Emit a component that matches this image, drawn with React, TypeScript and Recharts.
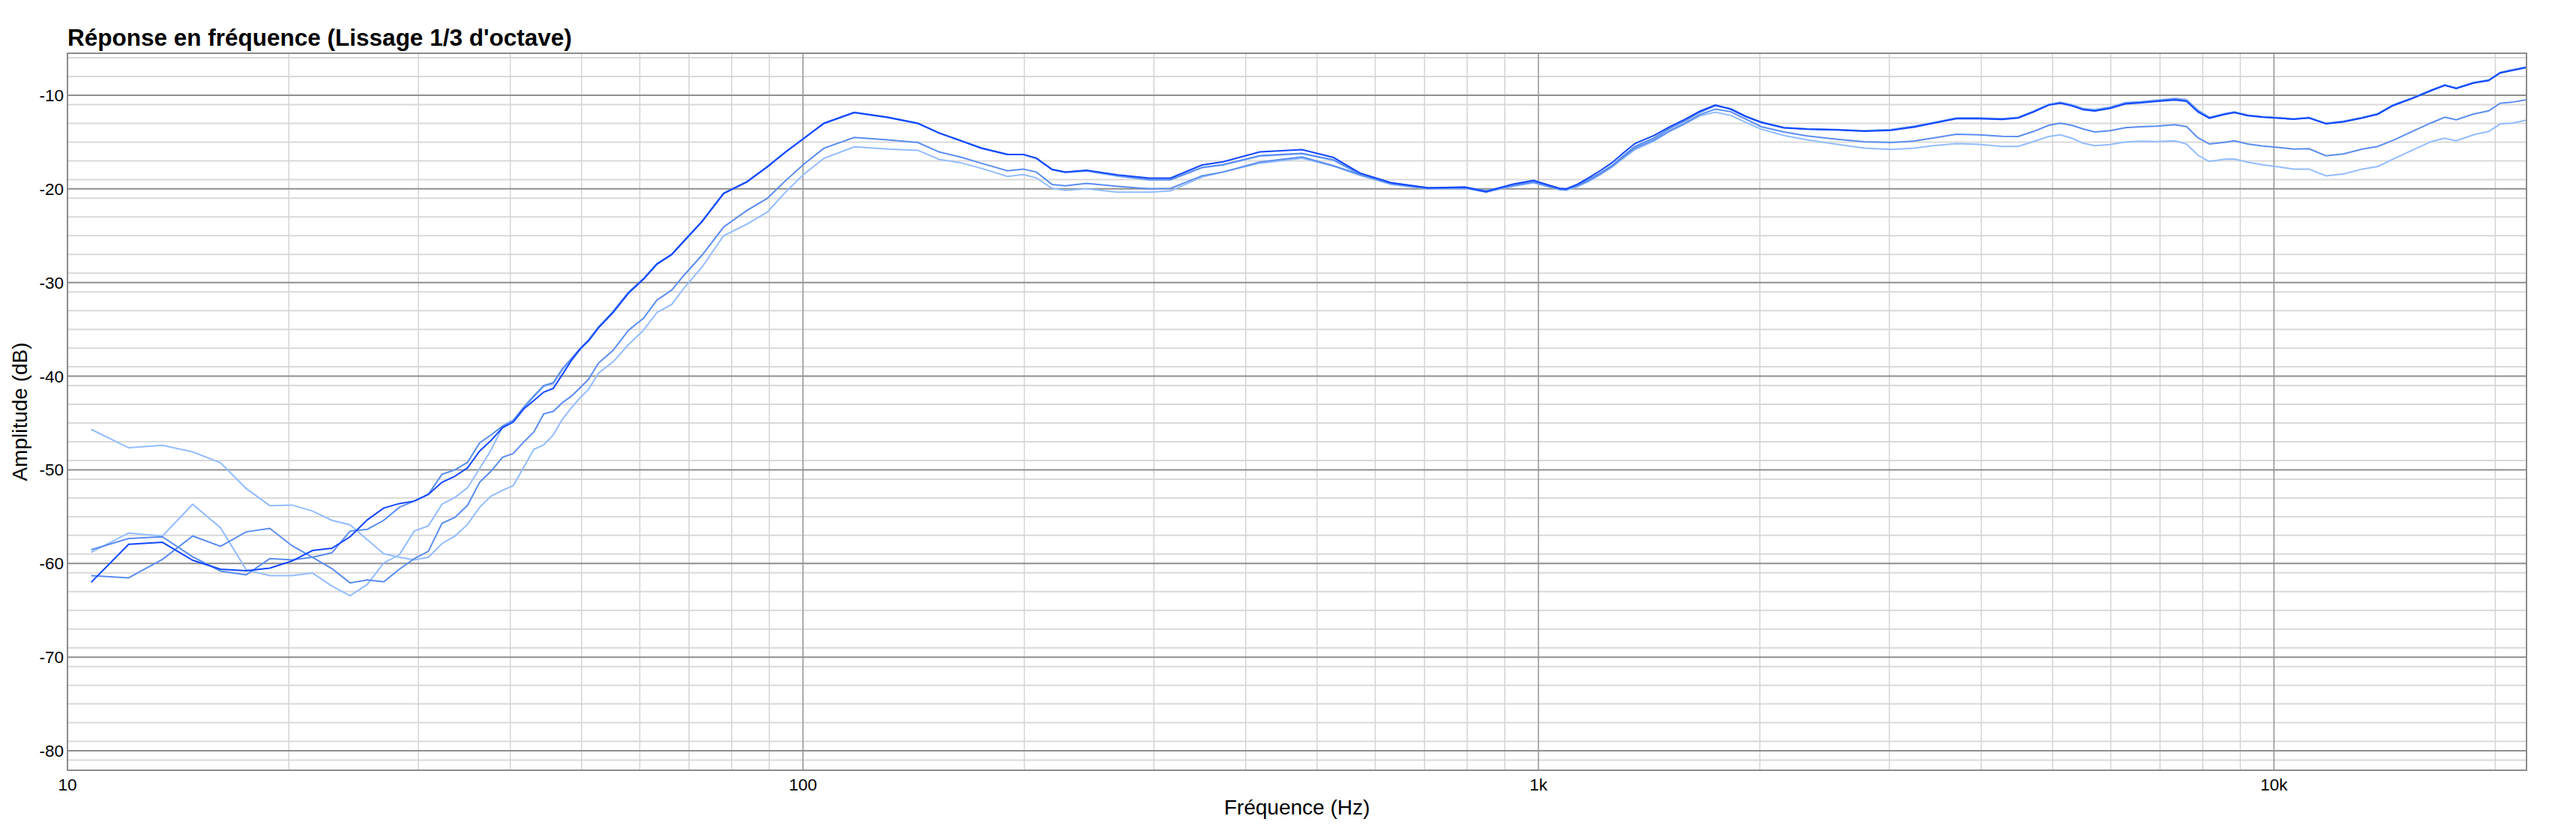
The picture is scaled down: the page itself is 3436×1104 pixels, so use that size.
import { CartesianGrid, Line, LineChart, XAxis, YAxis } from "recharts";

// frequencies (Hz): FFT bins at the bottom end, then a log-ish grid
const freqs = [
  10.77, 12.11, 13.46, 14.8, 16.15, 17.5, 18.84, 20.19, 21.53, 22.88,
  24.22, 25.57, 26.92, 28.26, 29.61, 30.95, 32.3, 33.65, 34.99, 36.34,
  37.68, 39.03, 40.37, 41.72, 43.07, 44.41, 45.76, 47.1, 48.45, 49.8, 51.14,
  52.7, 55.2, 57.9, 60.7, 63.3, 66.3, 68.8, 72.9, 78.0, 83.9, 89.4, 94.7, 100.3, 106.8, 117.4, 130.4, 143.3,
  153.1, 163.6, 174.7, 189.7, 199.3, 207.6, 218.2, 227.4, 242.9, 268.1, 295.9, 316.0, 348.8, 372.6, 418.1, 477.0, 526.5, 571.6, 631.0, 707.9, 794.5, 848.6, 921.5, 984.3, 1068.6,
  1090, 1130, 1171, 1214, 1259, 1305, 1353, 1436, 1506, 1580, 1658, 1740, 1825, 1914, 2009, 2158, 2319, 2551, 2774, 3016, 3242, 3442, 3699, 3974, 4270,
  4489, 4710, 4942, 5124, 5311, 5505, 5706, 5985, 6280, 6589, 6911, 7336, 7605, 7882, 8170, 8574, 8834, 9212, 9663, 10053,
  10634, 11156, 11771, 12425, 13193, 13842, 14522, 15414, 16368, 17073, 17697, 18676, 19589, 20305, 21049, 22050,
]

// dark blue measurement
const dark = [
  -62.01, -57.96, -57.74, -59.66, -60.62, -60.78, -60.49, -59.74, -58.62, -58.38,
  -57.15, -55.34, -54.08, -53.6, -53.34, -52.62, -51.33, -50.67, -49.79, -48.0,
  -46.85, -45.5, -44.9, -43.5, -42.6, -41.7, -41.3, -39.8, -38.3, -37.1, -36.2,
  -34.85, -33.2, -31.15, -29.65, -28.05, -27.02, -25.64, -23.5, -20.5, -19.26, -17.66, -16.07, -14.6, -13.0, -11.84, -12.36, -13.0,
  -14.03, -14.84, -15.65, -16.32, -16.32, -16.72, -17.93, -18.2, -18.01, -18.5, -18.85, -18.85, -17.45, -17.1, -16.05, -15.8, -16.65, -18.3, -19.35, -19.89, -19.81, -20.3, -19.5, -19.1, -19.95,
  -20.0, -19.5, -18.8, -18.05, -17.2, -16.15, -15.15, -14.3, -13.4, -12.6, -11.7, -11.05, -11.48, -12.28, -12.9, -13.49, -13.63, -13.71, -13.85, -13.75, -13.4, -12.98, -12.5, -12.5, -12.58,
  -12.42, -11.78, -11.05, -10.85, -11.12, -11.55, -11.68, -11.4, -10.92, -10.8, -10.66, -10.5, -10.65, -11.78, -12.45, -12.05, -11.85, -12.18, -12.35, -12.42,
  -12.56, -12.42, -13.05, -12.84, -12.43, -12.02, -11.1, -10.35, -9.5, -8.95, -9.28, -8.7, -8.42, -7.62, -7.35, -7.03,
]

// medium blue, follows the top group at high frequency
const mediumTop = [
  -58.54, -57.34, -57.15, -59.29, -60.81, -61.21, -59.48, -59.61, -59.34, -58.86,
  -56.54, -56.35, -55.39, -54.0, -53.34, -52.62, -50.48, -50.0, -49.2, -47.12,
  -46.26, -45.33, -44.7, -43.3, -42.1, -41.0, -40.7, -39.2, -38.1, -37.0, -36.1,
  -34.75, -33.08, -31.03, -29.57, -27.98, -26.97, -25.6, -23.45, -20.45, -19.22, -17.63, -16.05, -14.58, -12.98, -11.82, -12.34, -12.98,
  -14.03, -14.84, -15.65, -16.32, -16.32, -16.72, -17.93, -18.2, -18.05, -18.6, -19.0, -19.0, -17.7, -17.4, -16.45, -16.2, -16.9, -18.4, -19.35, -19.89, -19.81, -20.2, -19.55, -19.25, -19.95,
  -20.05, -19.58, -18.98, -18.3, -17.5, -16.45, -15.45, -14.55, -13.55, -12.75, -11.8, -11.1, -11.45, -12.25, -12.88, -13.47, -13.6, -13.68, -13.8, -13.68, -13.33, -12.94, -12.45, -12.44, -12.52,
  -12.4, -11.74, -11.01, -10.8, -11.07, -11.47, -11.6, -11.33, -10.85, -10.75, -10.59, -10.4, -10.53, -11.66, -12.4, -12.0, -11.82, -12.14, -12.32, -12.4,
  -12.54, -12.4, -13.02, -12.8, -12.4, -12.0, -11.07, -10.32, -9.47, -8.93, -9.25, -8.67, -8.4, -7.6, -7.33, -7.01,
]

// light blue, follows the top group at high frequency
const lightTop = [
  -58.81, -56.75, -57.07, -53.68, -56.19, -60.68, -61.29, -61.29, -61.02, -62.41,
  -63.45, -62.23, -59.93, -59.08, -56.54, -55.98, -53.66, -52.94, -51.92, -49.87,
  -47.86, -45.46, -44.8, -43.4, -42.2, -41.1, -40.8, -39.3, -38.2, -37.1, -36.2,
  -34.8, -33.12, -31.08, -29.6, -28.0, -27.0, -25.62, -23.48, -20.48, -19.24, -17.65, -16.06, -14.59, -13.0, -11.86, -12.38, -13.02,
  -14.0, -14.8, -15.6, -16.3, -16.35, -16.75, -17.95, -18.25, -18.1, -18.65, -19.05, -19.05, -17.75, -17.45, -16.5, -16.25, -16.95, -18.45, -19.4, -19.95, -19.85, -20.25, -19.6, -19.3, -20.0,
  -20.1, -19.62, -19.02, -18.35, -17.55, -16.5, -15.5, -14.6, -13.6, -12.8, -11.85, -11.12, -11.42, -12.22, -12.85, -13.45, -13.58, -13.66, -13.78, -13.66, -13.3, -12.92, -12.42, -12.42, -12.5,
  -12.36, -11.7, -10.96, -10.74, -11.0, -11.4, -11.52, -11.26, -10.78, -10.68, -10.52, -10.32, -10.45, -11.58, -12.34, -11.94, -11.76, -12.1, -12.28, -12.36,
  -12.5, -12.36, -12.98, -12.76, -12.36, -11.96, -11.02, -10.28, -9.42, -8.88, -9.2, -8.62, -8.36, -7.56, -7.28, -6.97,
]

// medium blue, middle curve at high frequency
const mediumMid = [
  -61.29, -61.53, -59.56, -57.07, -58.17, -56.62, -56.25, -58.09, -59.34, -60.54,
  -62.07, -61.75, -61.96, -60.62, -59.48, -58.7, -55.71, -55.07, -53.79, -51.33,
  -50.13, -48.67, -48.26, -47.03, -45.96, -44.03, -43.76, -42.81, -42.13, -41.21, -40.3,
  -38.62, -37.24, -35.1, -33.81, -31.88, -30.81, -29.28, -27.08, -24.08, -22.3, -21.02, -19.12, -17.35, -15.66, -14.5, -14.77, -15.05,
  -16.05, -16.59, -17.26, -18.06, -17.88, -18.2, -19.54, -19.68, -19.41, -19.73, -20.0, -19.95, -18.6, -18.2, -17.12, -16.59, -17.53, -18.47, -19.46, -19.95, -19.89, -20.3, -19.68, -19.27, -20.08,
  -20.08, -19.68, -19.09, -18.39, -17.58, -16.59, -15.65, -14.78, -13.82, -13.01, -12.07, -11.48, -11.75, -12.55, -13.36, -13.92, -14.35, -14.7, -14.97, -15.05, -14.89, -14.57, -14.17, -14.22, -14.38,
  -14.4, -13.87, -13.2, -12.99, -13.2, -13.6, -13.92, -13.79, -13.47, -13.36, -13.31, -13.15, -13.34, -14.54, -15.21, -15.02, -14.86, -15.21, -15.42, -15.55,
  -15.74, -15.71, -16.46, -16.27, -15.74, -15.47, -14.81, -13.87, -12.94, -12.35, -12.62, -12.0, -11.66, -10.85, -10.75, -10.48,
]

// light blue, lowest curve at high frequency
const lightLow = [
  -45.68, -47.65, -47.38, -48.08, -49.25, -52.0, -53.82, -53.76, -54.4, -55.39,
  -55.87, -57.47, -58.97, -59.34, -59.61, -59.34, -57.87, -57.07, -55.82, -54.0,
  -52.8, -52.2, -51.68, -49.72, -47.8, -47.34, -46.27, -44.58, -43.36, -42.29, -41.37,
  -39.69, -38.46, -36.63, -35.1, -33.2, -32.34, -30.66, -28.36, -25.0, -23.77, -22.49, -20.34, -18.42, -16.73, -15.51, -15.75, -15.88,
  -16.85, -17.2, -17.8, -18.66, -18.47, -18.82, -19.95, -20.16, -20.0, -20.35, -20.35, -20.22, -18.74, -18.2, -17.26, -16.72, -17.58, -18.55, -19.54, -20.0, -19.95, -20.35, -19.73, -19.35, -20.08,
  -20.16, -19.76, -19.19, -18.49, -17.69, -16.72, -15.81, -14.89, -13.9, -13.09, -12.2, -11.8, -12.15, -12.9, -13.63, -14.3, -14.76, -15.24, -15.65, -15.78, -15.65, -15.38, -15.16, -15.24, -15.46,
  -15.47, -14.94, -14.4, -14.22, -14.59, -15.13, -15.39, -15.26, -14.99, -14.91, -14.94, -14.86, -15.21, -16.41, -17.07, -16.83, -16.81, -17.15, -17.42, -17.61,
  -17.88, -17.88, -18.6, -18.41, -17.88, -17.61, -16.81, -15.87, -14.94, -14.59, -14.86, -14.22, -13.87, -13.07, -12.99, -12.67,
]

const xTicks = [10, 100, 1000, 10000]
const yTicks = [-80, -70, -60, -50, -40, -30, -20, -10]
const minorFreqs = [
  20, 30, 40, 50, 60, 70, 80, 90,
  200, 300, 400, 500, 600, 700, 800, 900,
  2000, 3000, 4000, 5000, 6000, 7000, 8000, 9000,
  20000,
]
const minorDb = Array.from({ length: 77 }, (_, i) => -82 + i).filter(v => v % 10 !== 0)

const rows = freqs.map((f, i) => ({
  f,
  dark: dark[i],
  mediumTop: mediumTop[i],
  lightTop: lightTop[i],
  mediumMid: mediumMid[i],
  lightLow: lightLow[i],
}))

const fmtFreq = (v: number) => (v >= 1000 ? `${v / 1000}k` : `${v}`)

const FONT = '"Liberation Sans", Arial, Helvetica, sans-serif'
const DARK = '#1247ff'
const MEDIUM = '#5b8df0'
const LIGHT = '#93bcff'

export default function App() {
  return (
    <div style={{ position: 'absolute', left: 0, top: 0, width: 3436, height: 1104, background: '#fff', fontFamily: FONT }}>
      <div style={{ position: 'absolute', left: 90, top: 35, fontSize: 31.5, lineHeight: '31.5px', fontWeight: 'bold', color: '#000', whiteSpace: 'nowrap' }}>
        Réponse en fréquence (Lissage 1/3 d'octave)
      </div>

      <LineChart width={3436} height={1104} data={rows} margin={{ top: 71, right: 66, bottom: 0, left: 0 }}>
        <CartesianGrid vertical={false} horizontalValues={minorDb} stroke="#d9d9d9" strokeWidth={2} />
        <CartesianGrid horizontal={false} verticalValues={minorFreqs} stroke="#d4d4d4" strokeWidth={1.5} />
        <CartesianGrid vertical={false} horizontalValues={yTicks} stroke="#8f8f8f" strokeWidth={2} />
        <CartesianGrid horizontal={false} verticalValues={xTicks} stroke="#939393" strokeWidth={1.5} />

        <XAxis
          dataKey="f"
          type="number"
          scale="log"
          domain={[10, 22050]}
          allowDataOverflow
          ticks={xTicks}
          tickFormatter={fmtFreq}
          height={77}
          axisLine={false}
          tickLine={false}
          tickSize={0}
          tickMargin={11}
          tick={{ fontSize: 22.5, fill: '#000' }}
          label={{ value: 'Fréquence (Hz)', position: 'insideBottom', offset: 18, style: { fontSize: 28, fill: '#000' } }}
        />
        <YAxis
          type="number"
          domain={[-82.08, -5.515]}
          allowDataOverflow
          ticks={yTicks}
          width={90}
          axisLine={false}
          tickLine={false}
          tickSize={0}
          tickMargin={5}
          tick={{ fontSize: 22.5, fill: '#000' }}
          label={{ value: 'Amplitude (dB)', angle: -90, position: 'insideLeft', offset: 26, style: { fontSize: 28, fill: '#000', textAnchor: 'middle' } }}
        />

        <Line dataKey="lightLow" type="linear" stroke={LIGHT} strokeWidth={2} dot={false} activeDot={false} isAnimationActive={false} />
        <Line dataKey="lightTop" type="linear" stroke={LIGHT} strokeWidth={2} dot={false} activeDot={false} isAnimationActive={false} />
        <Line dataKey="mediumMid" type="linear" stroke={MEDIUM} strokeWidth={2} dot={false} activeDot={false} isAnimationActive={false} />
        <Line dataKey="mediumTop" type="linear" stroke={MEDIUM} strokeWidth={2} dot={false} activeDot={false} isAnimationActive={false} />
        <Line dataKey="dark" type="linear" stroke={DARK} strokeWidth={2} dot={false} activeDot={false} isAnimationActive={false} />
      </LineChart>

      <div style={{ position: 'absolute', left: 89, top: 70, width: 3282, height: 958, border: '2px solid #8c8c8c', boxSizing: 'border-box', pointerEvents: 'none' }} />
    </div>
  )
}
